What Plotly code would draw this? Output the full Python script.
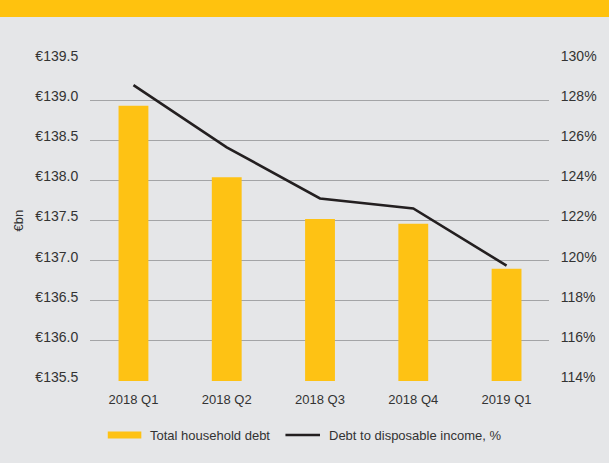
import plotly.graph_objects as go

# Quarterly data
quarters = ["2018 Q1", "2018 Q2", "2018 Q3", "2018 Q4", "2019 Q1"]
household_debt_bn = [138.93, 138.04, 137.52, 137.46, 136.90]
debt_to_income_pct = [128.75, 125.65, 123.1, 122.6, 119.75]

series_names = ["Total household debt", "Debt to disposable income, %"]

left_ticks = [135.5, 136.0, 136.5, 137.0, 137.5, 138.0, 138.5, 139.0, 139.5]
left_labels = ["€" + f"{v:.1f}" for v in left_ticks]
right_ticks = [114, 116, 118, 120, 122, 124, 126, 128, 130]
right_labels = [f"{v}%" for v in right_ticks]

YELLOW = "#FEC214"
BLACK = "#231F20"
BG = "#E5E6E8"
TXT = "#333333"

# plot area in pixels (left, right, top, bottom)
PL, PR, PT, PB = 90, 555, 60, 381


def px_x(x):
    return (x - PL) / (PR - PL)


def px_y(y):
    return (PB - y) / (PB - PT)


fig = go.Figure()

fig.add_trace(go.Bar(
    x=quarters, y=household_debt_bn, marker_color=YELLOW,
    marker_line_width=0, width=0.32, name=series_names[0], yaxis="y",
))
fig.add_trace(go.Scatter(
    x=quarters, y=debt_to_income_pct, mode="lines",
    line=dict(color=BLACK, width=2.6), name=series_names[1], yaxis="y2",
))

# header band
fig.add_shape(type="rect", xref="paper", yref="paper",
              x0=-0.3, x1=1.3, y0=px_y(17), y1=1.3,
              fillcolor="#FFC20E", line_width=0, layer="above")

# legend: swatches and labels below the axis
legend_items = [
    (108, 142, 149, YELLOW, 7),
    (288, 323, 330, BLACK, 2.6),
]
for name, (sx0, sx1, tx, col, lw) in zip(series_names, legend_items):
    fig.add_shape(type="line", xref="paper", yref="paper",
                  x0=px_x(sx0), x1=px_x(sx1), y0=px_y(435), y1=px_y(435),
                  line=dict(color=col, width=lw))
    fig.add_annotation(text=name, xref="paper", yref="paper",
                       x=px_x(tx), y=px_y(435), xanchor="left", yanchor="middle",
                       showarrow=False, font=dict(size=13, color=TXT))

fig.add_annotation(text="€bn", xref="paper", yref="paper",
                   x=px_x(18), y=0.5, xanchor="center", yanchor="middle",
                   textangle=-90, showarrow=False,
                   font=dict(size=13, color=TXT))

fig.update_layout(
    width=609, height=463,
    margin=dict(l=PL, r=609 - PR, t=PT, b=463 - PB),
    paper_bgcolor=BG, plot_bgcolor=BG,
    font=dict(family="Liberation Sans, Arial, sans-serif", size=13, color=TXT),
    showlegend=False,
    xaxis=dict(type="category", range=[-0.466, 4.455], showgrid=False,
               showline=False, zeroline=False, ticks="outside", ticklen=6,
               tickcolor=BG, tickfont=dict(size=13)),
    yaxis=dict(range=[135.5, 139.5], tickvals=left_ticks, ticktext=left_labels,
               showgrid=True, gridcolor="#A3A4A6", gridwidth=1, zeroline=False,
               showline=False, ticks="outside", ticklen=8, tickcolor=BG,
               tickfont=dict(size=14), ticklabelshift=-4),
    yaxis2=dict(range=[114, 130], tickvals=right_ticks, ticktext=right_labels,
                overlaying="y", side="right", showgrid=False, zeroline=False,
                showline=False, ticks="outside", ticklen=8, tickcolor=BG,
                tickfont=dict(size=14), ticklabelshift=-4),
)

fig.write_html("out.html")
